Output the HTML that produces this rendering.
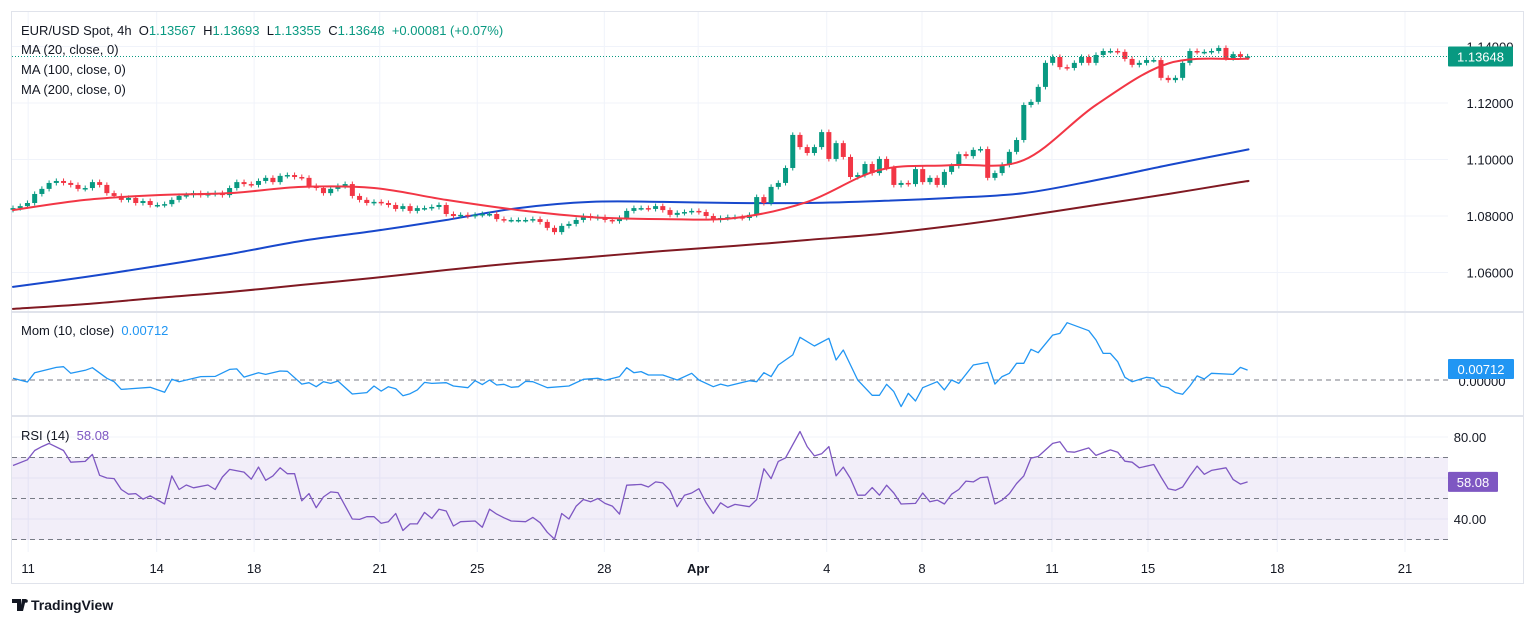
<!DOCTYPE html>
<html><head><meta charset="utf-8"><style>
html,body{margin:0;padding:0;background:#fff;}
body{width:1536px;height:625px;overflow:hidden;font-family:"Liberation Sans",sans-serif;}
svg text{font-family:"Liberation Sans",sans-serif;}
</style></head><body>
<svg id="chart" width="1536" height="625" viewBox="0 0 1536 625" xmlns="http://www.w3.org/2000/svg">
<rect x="11.5" y="11.5" width="1512" height="572" fill="#fff" stroke="#e0e3eb" stroke-width="1"/>
<g id="grid"></g>
<rect x="12" y="457" width="1436" height="83" fill="#7e57c2" fill-opacity="0.1"/>
<g id="marks"></g>
<line x1="11" y1="312" x2="1524" y2="312" stroke="#e0e3eb" stroke-width="2"/>
<line x1="11" y1="416" x2="1524" y2="416" stroke="#e0e3eb" stroke-width="2"/>
<g id="axes"></g>
<g font-size="13" fill="#131722">
<text x="21" y="35">EUR/USD Spot, 4h&#160; O<tspan fill="#089981">1.13567</tspan>&#160; H<tspan fill="#089981">1.13693</tspan>&#160; L<tspan fill="#089981">1.13355</tspan>&#160; C<tspan fill="#089981">1.13648</tspan>&#160; <tspan fill="#089981">+0.00081 (+0.07%)</tspan></text>
<text x="21" y="54">MA (20, close, 0)</text>
<text x="21" y="74">MA (100, close, 0)</text>
<text x="21" y="94">MA (200, close, 0)</text>
<text x="21" y="335">Mom (10, close)&#160; <tspan fill="#2196f3">0.00712</tspan></text>
<text x="21" y="440">RSI (14)&#160; <tspan fill="#7e57c2">58.08</tspan></text>
</g>
<g>
<path d="M12 599h9v12h-4v-8h-5z M22 599h4l-3 12h-3z" fill="#131722"/>
<circle cx="26" cy="601" r="1.8" fill="#131722"/>
<text x="31" y="610" font-size="14" font-weight="bold" fill="#131722">TradingView</text>
</g>
</svg>
<script>
const closes=[1.0828,1.0835,1.0846,1.0878,1.0896,1.0917,1.0924,1.0917,1.0910,1.0896,1.0899,1.0920,1.0910,1.0881,1.0871,1.0857,1.0864,1.0846,1.0853,1.0839,1.0839,1.0842,1.0857,1.0871,1.0874,1.0881,1.0874,1.0878,1.0881,1.0874,1.0899,1.0920,1.0913,1.0910,1.0924,1.0935,1.0920,1.0942,1.0945,1.0938,1.0935,1.0906,1.0899,1.0881,1.0896,1.0906,1.0913,1.0871,1.0857,1.0846,1.0850,1.0846,1.0839,1.0825,1.0835,1.0818,1.0828,1.0828,1.0832,1.0839,1.0807,1.0800,1.0804,1.0800,1.0804,1.0807,1.0807,1.0789,1.0786,1.0786,1.0786,1.0786,1.0789,1.0779,1.0758,1.0743,1.0765,1.0772,1.0786,1.0800,1.0793,1.0796,1.0786,1.0782,1.0793,1.0818,1.0828,1.0828,1.0825,1.0835,1.0821,1.0804,1.0811,1.0814,1.0818,1.0814,1.0800,1.0786,1.0793,1.0796,1.0796,1.0793,1.0804,
1.0867,1.0846,1.0903,1.0917,1.0970,1.1087,1.1044,1.1023,1.1044,1.1097,1.1002,1.1058,1.1009,1.0938,1.0945,1.0984,1.0952,1.1002,1.0970,1.0910,1.0917,1.0913,1.0966,1.0920,1.0935,1.0910,1.0956,1.0977,1.1019,1.1012,1.1034,1.1037,1.0935,1.0952,1.0981,1.1027,1.1069,1.1193,1.1204,1.1257,1.1342,1.1363,1.1327,1.1324,1.1342,1.1363,1.1342,1.1370,1.1384,1.1384,1.1381,1.1356,1.1335,1.1342,1.1352,1.1352,1.1289,1.1281,1.1289,1.1342,1.1384,1.1381,1.1381,1.1384,1.1395,1.1359,1.1373,1.1363,1.1365];
const firstOpen=1.0822;
const maIdx=[0,10,20,30,40,50,60,70,80,90,100,110,120,130,140,150,160,170,171];
const ma20=[1.0821,1.0857,1.0874,1.0881,1.0903,1.0899,1.0857,1.0821,1.0796,1.0789,1.0793,1.0850,1.0963,1.0980,1.0998,1.1193,1.1340,1.1356,1.1356];
const ma100=[1.0549,1.0584,1.0623,1.0665,1.0712,1.0747,1.0786,1.0828,1.0850,1.0850,1.0846,1.0846,1.0853,1.0864,1.0881,1.0927,1.0980,1.1030,1.1035];
const ma200=[1.0471,1.0488,1.0510,1.0531,1.0556,1.0581,1.0609,1.0634,1.0655,1.0676,1.0694,1.0715,1.0736,1.0765,1.0800,1.0839,1.0878,1.0920,1.0923];
const momIdx=[0,2,3,6,7,8,10,11,13,14,15,19,21,22,23,26,28,30,31,32,34,35,37,38,40,41,42,43,44,45,47,49,50,51,52,53,54,55,56,57,58,60,61,63,64,65,66,67,68,69,70,71,72,74,77,79,81,82,84,85,86,87,88,90,92,94,95,97,98,99,102,103,104,105,106,108,109,111,113,114,115,117,119,120,121,122,123,124,125,126,128,129,130,131,133,135,136,137,138,139,140,141,142,144,145,146,149,150,151,152,153,154,155,157,158,159,160,161,162,163,164,165,166,169,170,171];
const momVal=[1.2,-1.4,5.2,9.0,9.5,4.8,6.9,8.8,1.2,-1.2,-6.7,-5.2,-8.8,0.5,-1.2,2.4,2.6,7.6,7.9,2.1,5.2,4.0,6.4,6.2,-2.9,-1.9,-4.8,-1.2,-2.4,-0.7,-10,-9.0,-4.3,-7.9,-4.8,-6.2,-11.2,-9.8,-7.1,-1.7,-2.4,-1.9,-4.3,-5.5,-0.5,-3.3,0,-3.6,-3.1,-5.2,-4.8,-1.0,-1.2,-5.5,-4.3,0.5,1.2,-0.2,2.4,8.8,5.2,6.0,3.6,3.6,0,4.8,0,-4.8,-2.9,-4.3,-0.5,-1.2,5.2,2.4,10.7,17.9,30.5,24.3,29.8,14.3,21.4,0,-10.9,-10.9,-3.1,-8.3,-19,-9.5,-15,-5.5,-1.2,-7.1,0,-2.4,10.7,12.6,-2.9,2.4,4.8,11.9,11.9,21.9,19.5,32.1,33.3,40.9,35.2,28.6,19.0,19.0,13.1,1.9,-1.2,1.9,1.2,-4.3,-5.5,-9.0,-10.2,-4.3,2.9,0.7,4.8,4.0,9.0,7.1];
const rsiIdx=[0,2,3,4,5,7,8,10,11,12,13,14,15,16,17,18,19,21,22,23,24,25,27,28,29,30,32,33,34,35,36,37,38,39,40,41,42,43,44,45,47,48,49,50,51,52,53,54,55,56,57,58,59,60,61,62,64,65,66,67,68,69,71,72,73,74,75,76,77,78,79,80,81,82,83,84,85,87,88,89,90,91,92,93,94,95,96,97,98,99,100,102,103,104,105,106,107,109,110,111,112,113,114,115,116,117,118,119,120,121,122,123,125,126,127,128,129,130,131,132,133,134,135,136,137,138,139,140,141,142,144,145,146,147,149,150,152,153,154,155,156,158,159,160,161,162,163,164,165,166,168,169,170,171];
const rsiVal=[66.1,68.9,73.4,75.3,76.9,73.4,67.7,68.1,71.5,61.3,60,59.7,54.4,52.1,52.4,49.7,51.3,47.3,61,54.4,56.6,55.2,56.6,54.4,60.5,64.2,62.9,59.4,65.3,58.9,61,65,62.1,62.1,48.9,52.4,45.5,50.8,53.2,52.9,40,39.8,41.1,41.1,37.9,38.7,42.7,34.4,37.6,37.6,43.2,40.3,44.8,43.9,36.6,38.7,39,36,44.8,42.4,40.6,39,38.7,40.8,38.2,33.5,30.2,42.7,40,46.3,49.5,48.4,50,47.6,46.3,42.4,56.5,56.9,55.6,58.1,57.6,54,46,51.6,52.7,54.8,47.9,42.7,47.9,45.6,47.1,46,49.5,64.5,59.7,68.1,69.8,82.7,75.3,70.8,71.8,75.3,61,65.3,59.7,51.6,51.6,55.3,51.6,56.5,52.7,47.3,47.6,52.7,48.4,49.2,47.3,52.1,54.4,58.5,58.1,60.2,60.5,47.3,49.2,52.4,57.3,61,69.7,70.5,76.9,77.7,72.9,72.6,74.7,71,73.7,72.6,68.2,67.7,65,66.6,60.5,54.8,54,55.6,61,65.8,61.8,63.7,65,59.2,57,58.1];
const priceTicks=[1.14,1.12,1.10,1.08,1.06];
const rsiTicks=[80,40];
const rsiGrid=[80,60,40];
const rsiLevels=[70,50,30];
const dateLabels=["11","14","18","21","25","28","Apr","4","8","11","15","18","21"];
const dateIdx=[2.1,19.9,33.4,50.8,64.3,81.9,94.9,112.7,125.9,143.9,157.2,175.1,192.8];
const lastPrice=1.13648, lastMom=0.00712, lastRsi=58.08;

const NS="http://www.w3.org/2000/svg";
const X=i=>13+7.22*i;
const PY=p=>216-(p-1.08)*2825;
const MY=m=>380-m*1.4;          // momentum in units of 0.001
const RY=r=>437+(80-r)*2.05;
function mk(tag,attrs,parent){const e=document.createElementNS(NS,tag);for(const k in attrs)e.setAttribute(k,attrs[k]);parent.appendChild(e);return e;}
const grid=document.getElementById('grid'),marks=document.getElementById('marks'),axes=document.getElementById('axes');

priceTicks.forEach(t=>{
  const g=mk('line',{x1:12,x2:1448,y1:PY(t),y2:PY(t),stroke:'#f0f3fa','stroke-width':1},grid);
  
  
  const tx=mk('text',{x:1490,y:PY(t)+5,'font-size':13,fill:'#131722','text-anchor':'middle'},axes);
  tx.textContent=t.toFixed(5);
  
  
});
rsiGrid.forEach(t=>{
  const g=mk('line',{x1:12,x2:1448,y1:RY(t),y2:RY(t),stroke:'#f0f3fa','stroke-width':1},grid);
  
  
});
rsiTicks.forEach(t=>{
  const tx=mk('text',{x:1470,y:RY(t)+5,'font-size':13,fill:'#131722','text-anchor':'middle'},axes);
  tx.textContent=t.toFixed(2);
  
  
});
dateLabels.forEach((d,k)=>{
  const x=X(dateIdx[k]);
  const g=mk('line',{x1:x,x2:x,y1:12,y2:552,stroke:'#f0f3fa','stroke-width':1},grid);
  
  
  const tx=mk('text',{x:x,y:573,'font-size':13,fill:'#131722','text-anchor':'middle','font-weight':d==='Apr'?'bold':'normal'},axes);
  tx.textContent=d;
  
  
});
rsiLevels.forEach(l=>{
  const e=mk('line',{x1:12,x2:1448,y1:RY(l),y2:RY(l),stroke:'#787b86','stroke-width':1,'stroke-dasharray':'5 4'},marks);
  
  
});
const z=mk('line',{x1:12,x2:1448,y1:MY(0),y2:MY(0),stroke:'#787b86','stroke-width':1,'stroke-dasharray':'5 4'},marks);



function poly(idx,vals,yf,color,w,name){
  const pts=idx.map((i,k)=>X(i).toFixed(1)+','+yf(vals[k]).toFixed(1)).join(' ');
  const e=mk('polyline',{points:pts,fill:'none',stroke:color,'stroke-width':w,'stroke-linejoin':'round'},marks);
  
  
}
function smooth(idx,vals,yf,color,w,name){
  const P=idx.map((i,k)=>[X(i),yf(vals[k])]);
  let d='M'+P[0][0].toFixed(1)+','+P[0][1].toFixed(1);
  for(let k=0;k<P.length-1;k++){
    const p0=P[Math.max(0,k-1)],p1=P[k],p2=P[k+1],p3=P[Math.min(P.length-1,k+2)];
    const c1x=p1[0]+(p2[0]-p0[0])/6,c1y=p1[1]+(p2[1]-p0[1])/6;
    const c2x=p2[0]-(p3[0]-p1[0])/6,c2y=p2[1]-(p3[1]-p1[1])/6;
    d+=' C'+c1x.toFixed(1)+','+c1y.toFixed(1)+' '+c2x.toFixed(1)+','+c2y.toFixed(1)+' '+p2[0].toFixed(1)+','+p2[1].toFixed(1);
  }
  const e=mk('path',{d:d,fill:'none',stroke:color,'stroke-width':w,'stroke-linecap':'round'},marks);
  
  
}
smooth(maIdx,ma200,PY,'#801922',2,'ma200-line');
smooth(maIdx,ma100,PY,'#1848cc',2,'ma100-line');

const WICK=0.0009;
closes.forEach((c,i)=>{
  const o=i===0?firstOpen:closes[i-1];
  const up=c>=o, col=up?'#089981':'#f23645', x=X(i);
  const hi=Math.max(o,c)+WICK, lo=Math.min(o,c)-WICK;
  const g=mk('g',{},marks);
  
  
  mk('line',{x1:x,x2:x,y1:PY(hi),y2:PY(lo),stroke:col,'stroke-width':1},g);
  const top=PY(Math.max(o,c)), h=Math.max(1.5,PY(Math.min(o,c))-top);
  mk('rect',{x:x-2.5,y:top,width:5,height:h,fill:col},g);
});
smooth(maIdx,ma20,PY,'#f23645',2,'ma20-line');
poly(momIdx,momVal,MY,'#2196f3',1.3,'momentum-line');
poly(rsiIdx,rsiVal,RY,'#7e57c2',1.3,'rsi-line');

const lp=mk('line',{x1:12,x2:1448,y1:PY(lastPrice),y2:PY(lastPrice),stroke:'#089981','stroke-width':1,'stroke-dasharray':'1 2'},marks);



function badge(y,text,bg,w,name){
  const g=mk('g',{},axes);
  
  
  mk('rect',{x:1448,y:y-10,width:w,height:20,fill:bg,rx:1},g);
  const t=mk('text',{x:1448+w/2,y:y+5,'font-size':13,fill:'#fff','text-anchor':'middle'},g);
  t.textContent=text;
}
const mz=mk('text',{x:1482,y:MY(0)+6,'font-size':13,fill:'#131722','text-anchor':'middle'},axes);
mz.textContent='0.00000';


badge(PY(lastPrice),lastPrice.toFixed(5),'#089981',65,'last-price-badge');
badge(MY(lastMom*1000)-1,lastMom.toFixed(5),'#2196f3',66,'mom-value-badge');
badge(RY(lastRsi),lastRsi.toFixed(2),'#7e57c2',50,'rsi-value-badge');
</script>
</body></html>
